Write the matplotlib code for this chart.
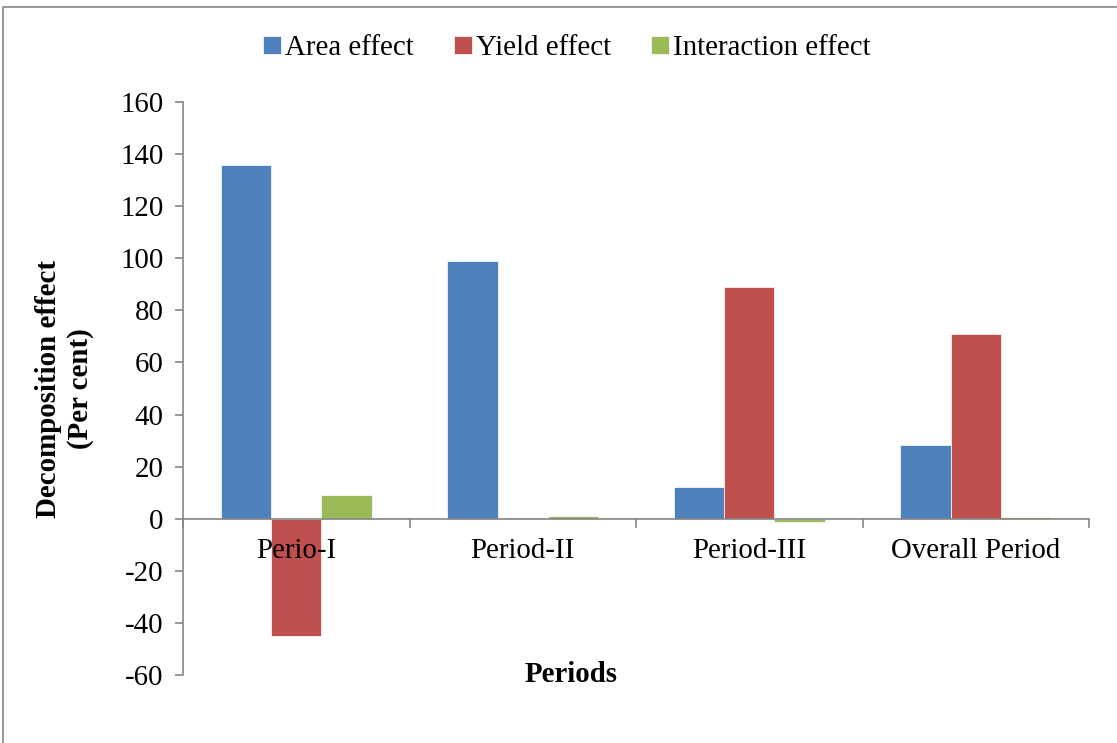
import numpy as np
import matplotlib.pyplot as plt
from matplotlib.patches import Rectangle
from matplotlib.transforms import blended_transform_factory, ScaledTranslation

periods = ['Perio-I', 'Period-II', 'Period-III', 'Overall Period']
area_effect = [136, 98.8, 12, 28.4]
yield_effect = [-45, 0.2, 88.8, 71]
interaction_effect = [9.2, 0.9, -1.1, 0.5]
series_names = ['Area effect', 'Yield effect', 'Interaction effect']
colors = ['#4F81BD', '#C0504D', '#9BBB59']

plt.rcParams['font.family'] = ['Liberation Serif', 'DejaVu Serif']
plt.rcParams['axes.unicode_minus'] = False
fs = 20.8
grey = '#868686'

fig = plt.figure(figsize=(11.17, 7.43), dpi=100)
# outer chart border
fig.patches.append(Rectangle((3 / 1117, -0.05), 1.2, 1 - 7 / 743 + 0.05,
                             transform=fig.transFigure, fill=False,
                             edgecolor=grey, linewidth=1.2))

ax = fig.add_axes([183 / 1117, 1 - 675 / 743, (1089 - 183) / 1117, (675 - 102) / 743])

x = np.arange(len(periods))
width = 1 / 4.5
data = [area_effect, yield_effect, interaction_effect]
for i, (vals, name, c) in enumerate(zip(data, series_names, colors)):
    ax.bar(x + (i - 1) * width, vals, width, color=c, label=name,
           edgecolor='white', linewidth=0.5)

ax.set_xlim(-0.5, len(periods) - 0.5)
ax.set_ylim(-60, 160)
ax.set_yticks(np.arange(-60, 161, 20))

for s in ['top', 'right', 'bottom']:
    ax.spines[s].set_visible(False)
ax.spines['left'].set_color(grey)
ax.spines['left'].set_linewidth(1.2)

# category axis crosses at zero, labels hang under it
ax.axhline(0, color=grey, linewidth=1.2, zorder=3)
ax.set_xticks([])
for xb in np.arange(-0.5, len(periods), 1.0):
    ax.plot([xb, xb], [0, -3], color=grey, linewidth=1.2, clip_on=False, zorder=3)
trans = ax.transData + ScaledTranslation(0, -14 / 72, fig.dpi_scale_trans)
for xi, name in zip(x, periods):
    ax.text(xi, 0, name, fontsize=fs, ha='center', va='top', transform=trans)

ax.tick_params(axis='y', labelsize=fs, direction='out', length=6, width=1.2,
               color=grey, pad=8)

ax.set_ylabel('Decomposition effect\n(Per cent)', fontsize=fs, fontweight='bold',
              linespacing=1.2, labelpad=19)
ax.text((571 - 183) / (1089 - 183), -60, 'Periods', fontsize=fs, fontweight='bold',
        ha='center', va='center',
        transform=blended_transform_factory(ax.transAxes, ax.transData))

fig.legend(loc='center', bbox_to_anchor=(567 / 1117, 1 - 48 / 743), ncol=3,
           frameon=False, fontsize=fs, handlelength=0.6, handleheight=0.6,
           handletextpad=0.15, columnspacing=1.4)

plt.savefig('out.png', dpi=100)
plt.close()
